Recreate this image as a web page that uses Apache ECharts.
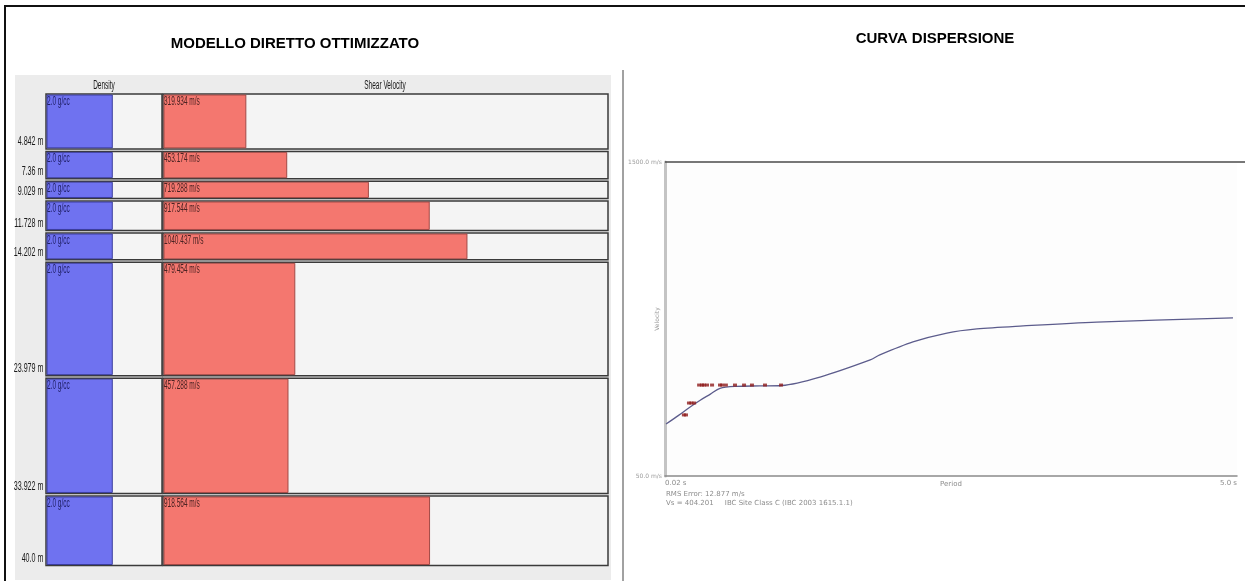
<!DOCTYPE html>
<html>
<head>
<meta charset="utf-8">
<script src="https://cdn.jsdelivr.net/npm/echarts@6/dist/echarts.min.js"></script>
<style>
  html, body { margin: 0; padding: 0; background: #ffffff; }
  #chart { width: 1245px; height: 581px; }
</style>
</head>
<body>
<div id="chart"></div>
<script>
// Layered model: depth boundaries (m), density (g/cc), shear velocity (m/s)
const layerDepths = [0, 4.842, 7.36, 9.029, 11.728, 14.202, 23.979, 33.922, 40.0];
const depthLabels = ['4.842 m', '7.36 m', '9.029 m', '11.728 m', '14.202 m', '23.979 m', '33.922 m', '40.0 m'];
const densities = [2.0, 2.0, 2.0, 2.0, 2.0, 2.0, 2.0, 2.0];
const shearVelocities = [319.934, 453.174, 719.288, 917.544, 1040.437, 479.454, 457.288, 918.564];

// Display ranges of the two model columns
const densityRange = [1.0, 2.75];
const velocityRange = [50, 1500];

// Dispersion curve: period (s) vs phase velocity (m/s)
const curvePeriods = [0.0202, 0.0228, 0.0255, 0.0281, 0.0310, 0.0340, 0.0400, 0.0500, 0.0619, 0.0893, 0.145, 0.159, 0.219, 0.304, 0.406, 0.634, 1.29, 4.81];
const curveVelocities = [290, 330, 369, 400, 428, 455, 464, 466, 468, 507, 586, 609, 669, 710, 729, 743, 761, 780];

// Picked dispersion points
const pickPeriods = [0.0240, 0.0245, 0.0252, 0.0258, 0.0265, 0.0278, 0.0286, 0.0291, 0.0300, 0.0315, 0.0340, 0.0347, 0.0360, 0.0393, 0.0429, 0.0463, 0.0525, 0.0613];
const pickVelocities = [332, 332, 387, 387, 387, 470, 470, 470, 470, 470, 470, 470, 470, 470, 470, 470, 470, 470];

// Dispersion plot axis ticks
const periodTicks = [0.02, 5.0];
const periodTickLabels = ['0.02 s', '5.0 s'];
const velocityTicks = [50, 1500];
const velocityTickLabels = ['50.0 m/s', '1500.0 m/s'];

// condensed look of the model panel lettering
const modelFont = '13px "Liberation Sans", Arial, sans-serif';
const squeeze = 0.5;

const layers = [];
for (let i = 0; i < shearVelocities.length; i++) {
  layers.push({ top: layerDepths[i], bottom: layerDepths[i + 1], dens: densities[i], vs: shearVelocities[i] });
}

function cellRenderer(range, fillColor, fillStroke, textColor, textFor, withDepth) {
  return function (params, api) {
    const top = api.value(0), bot = api.value(1), v = api.value(2);
    const pA = api.coord([range[0], top]);
    const pB = api.coord([range[1], bot]);
    const pV = api.coord([v, bot]);
    const x0 = pA[0], y0 = pA[1] + 1, w = pB[0] - pA[0], h = pB[1] - pA[1] - 2.5;
    const children = [
      { type: 'rect', shape: { x: x0, y: y0, width: w, height: h },
        style: { fill: '#f4f4f4', stroke: '#3a3a3a', lineWidth: 1.5 } },
      { type: 'rect', shape: { x: x0 + 1, y: y0 + 1, width: pV[0] - x0 - 1, height: h - 2 },
        style: { fill: fillColor, stroke: fillStroke, lineWidth: 1 } },
      { type: 'text', x: x0 + 1, y: y0 + 1, scaleX: squeeze,
        style: { text: textFor(v), fill: textColor, font: modelFont,
                 textAlign: 'left', textVerticalAlign: 'top' } }
    ];
    if (withDepth) {
      children.push({ type: 'text', x: x0 - 2.5, y: pB[1] - 2, scaleX: squeeze + 0.05,
        style: { text: depthLabels[params.dataIndex], fill: '#1a1a1a', font: modelFont,
                 textAlign: 'right', textVerticalAlign: 'bottom' } });
    }
    return { type: 'group', children: children };
  };
}

const chart = echarts.init(document.getElementById('chart'), null, { renderer: 'canvas' });

const option = {
  animation: false,
  backgroundColor: '#ffffff',
  title: [
    { text: 'MODELLO DIRETTO OTTIMIZZATO', left: 290, top: 31, textAlign: 'center',
      textStyle: { fontFamily: '"Liberation Sans", Arial, sans-serif', fontSize: 15, fontWeight: 'bold', color: '#000' } },
    { text: 'CURVA DISPERSIONE', left: 930, top: 26, textAlign: 'center',
      textStyle: { fontFamily: '"Liberation Sans", Arial, sans-serif', fontSize: 15, fontWeight: 'bold', color: '#000' } }
  ],
  graphic: [
    // page frame
    { type: 'line', shape: { x1: 4, y1: 6, x2: 1245, y2: 6 }, style: { stroke: '#111', lineWidth: 2 }, z: 0 },
    { type: 'line', shape: { x1: 5, y1: 6, x2: 5, y2: 581 }, style: { stroke: '#111', lineWidth: 2 }, z: 0 },
    { type: 'line', shape: { x1: 623, y1: 70, x2: 623, y2: 581 }, style: { stroke: '#444', lineWidth: 1 }, z: 0 },
    // model panel background
    { type: 'rect', shape: { x: 15, y: 75, width: 596, height: 505 }, style: { fill: '#ececec' }, z: -1 },
    // column headers
    { type: 'text', x: 104, y: 85, scaleX: squeeze,
      style: { text: 'Density', fill: '#1a1a1a', font: modelFont, textAlign: 'center', textVerticalAlign: 'middle' } },
    { type: 'text', x: 385, y: 85, scaleX: squeeze,
      style: { text: 'Shear Velocity', fill: '#1a1a1a', font: modelFont, textAlign: 'center', textVerticalAlign: 'middle' } },
    // top edge of dispersion plot
    { type: 'line', shape: { x1: 665, y1: 162, x2: 1245, y2: 162 }, style: { stroke: '#4a4a4a', lineWidth: 1.5 }, z: 3 },
    // fit summary under the dispersion plot
    { type: 'text', x: 666, y: 491, style: { text: 'RMS Error: 12.877 m/s', fill: '#8c8c8c', font: '7px "DejaVu Sans", sans-serif' } },
    { type: 'text', x: 666, y: 500, style: { text: 'Vs = 404.201     IBC Site Class C (IBC 2003 1615.1.1)', fill: '#8c8c8c', font: '7px "DejaVu Sans", sans-serif' } }
  ],
  grid: [
    { left: 46, width: 116, top: 93, height: 474, outerBoundsMode: 'none', containLabel: false },
    { left: 163, width: 445, top: 93, height: 474, outerBoundsMode: 'none', containLabel: false },
    { left: 665, right: 8, top: 162, height: 314, outerBoundsMode: 'none', containLabel: false,
      show: true, backgroundColor: '#fdfdfd', borderWidth: 0 }
  ],
  xAxis: [
    { type: 'value', gridIndex: 0, min: densityRange[0], max: densityRange[1], show: false },
    { type: 'value', gridIndex: 1, min: velocityRange[0], max: velocityRange[1], show: false },
    { type: 'log', gridIndex: 2, min: periodTicks[0], max: periodTicks[1], logBase: 10,
      name: 'Period', nameLocation: 'middle', nameGap: 5, nameMoveOverlap: false,
      nameTextStyle: { fontFamily: '"DejaVu Sans", sans-serif', fontSize: 7, color: '#8c8c8c' },
      axisLine: { show: true, lineStyle: { color: '#8a8a8a', width: 1.5 } },
      axisTick: { show: false }, splitLine: { show: false },
      axisLabel: { show: true, customValues: periodTicks, margin: 4,
        alignMinLabel: 'left', alignMaxLabel: 'right',
        formatter: function (v) { const i = periodTicks.findIndex(t => Math.abs(t - v) < 1e-9); return i >= 0 ? periodTickLabels[i] : ''; },
        fontFamily: '"DejaVu Sans", sans-serif', fontSize: 7, color: '#8c8c8c' } }
  ],
  yAxis: [
    { type: 'value', gridIndex: 0, min: 0, max: 40, inverse: true, show: false },
    { type: 'value', gridIndex: 1, min: 0, max: 40, inverse: true, show: false },
    { type: 'value', gridIndex: 2, min: velocityRange[0], max: velocityRange[1],
      name: 'Velocity', nameLocation: 'middle', nameGap: 5, nameRotate: 90, nameMoveOverlap: false,
      nameTextStyle: { fontFamily: '"DejaVu Sans", sans-serif', fontSize: 6, color: '#9a9a9a' },
      axisLine: { show: true, lineStyle: { color: '#c4c4c4', width: 3 } },
      axisTick: { show: false }, splitLine: { show: false },
      axisLabel: { show: true, customValues: velocityTicks, margin: 3,
        formatter: function (v) { const i = velocityTicks.findIndex(t => Math.abs(t - v) < 1e-9); return i >= 0 ? velocityTickLabels[i] : ''; },
        fontFamily: '"DejaVu Sans", sans-serif', fontSize: 6, color: '#9a9a9a' } }
  ],
  series: [
    { type: 'custom', name: 'Density', xAxisIndex: 0, yAxisIndex: 0,
      encode: { x: 2, y: [0, 1] },
      data: layers.map(l => [l.top, l.bottom, l.dens]),
      renderItem: cellRenderer(densityRange, '#6f72f0', '#3a3c9c', '#1f1f66', v => v.toFixed(1) + ' g/cc', true) },
    { type: 'custom', name: 'Shear Velocity', xAxisIndex: 1, yAxisIndex: 1,
      encode: { x: 2, y: [0, 1] },
      data: layers.map(l => [l.top, l.bottom, l.vs]),
      renderItem: cellRenderer(velocityRange, '#f4776f', '#a24a46', '#4a2222', v => v.toFixed(3) + ' m/s', false) },
    { type: 'line', name: 'Dispersion curve', xAxisIndex: 2, yAxisIndex: 2,
      data: curvePeriods.map((p, i) => [p, curveVelocities[i]]),
      smooth: 0.3, showSymbol: false, lineStyle: { color: '#5c5c8c', width: 1.3 }, z: 2 },
    { type: 'scatter', name: 'Picks', xAxisIndex: 2, yAxisIndex: 2,
      data: pickPeriods.map((p, i) => [p, pickVelocities[i]]),
      symbol: 'rect', symbolSize: [4, 3], itemStyle: { color: '#8e1c1c' }, z: 3 }
  ]
};

chart.setOption(option);
</script>
</body>
</html>
